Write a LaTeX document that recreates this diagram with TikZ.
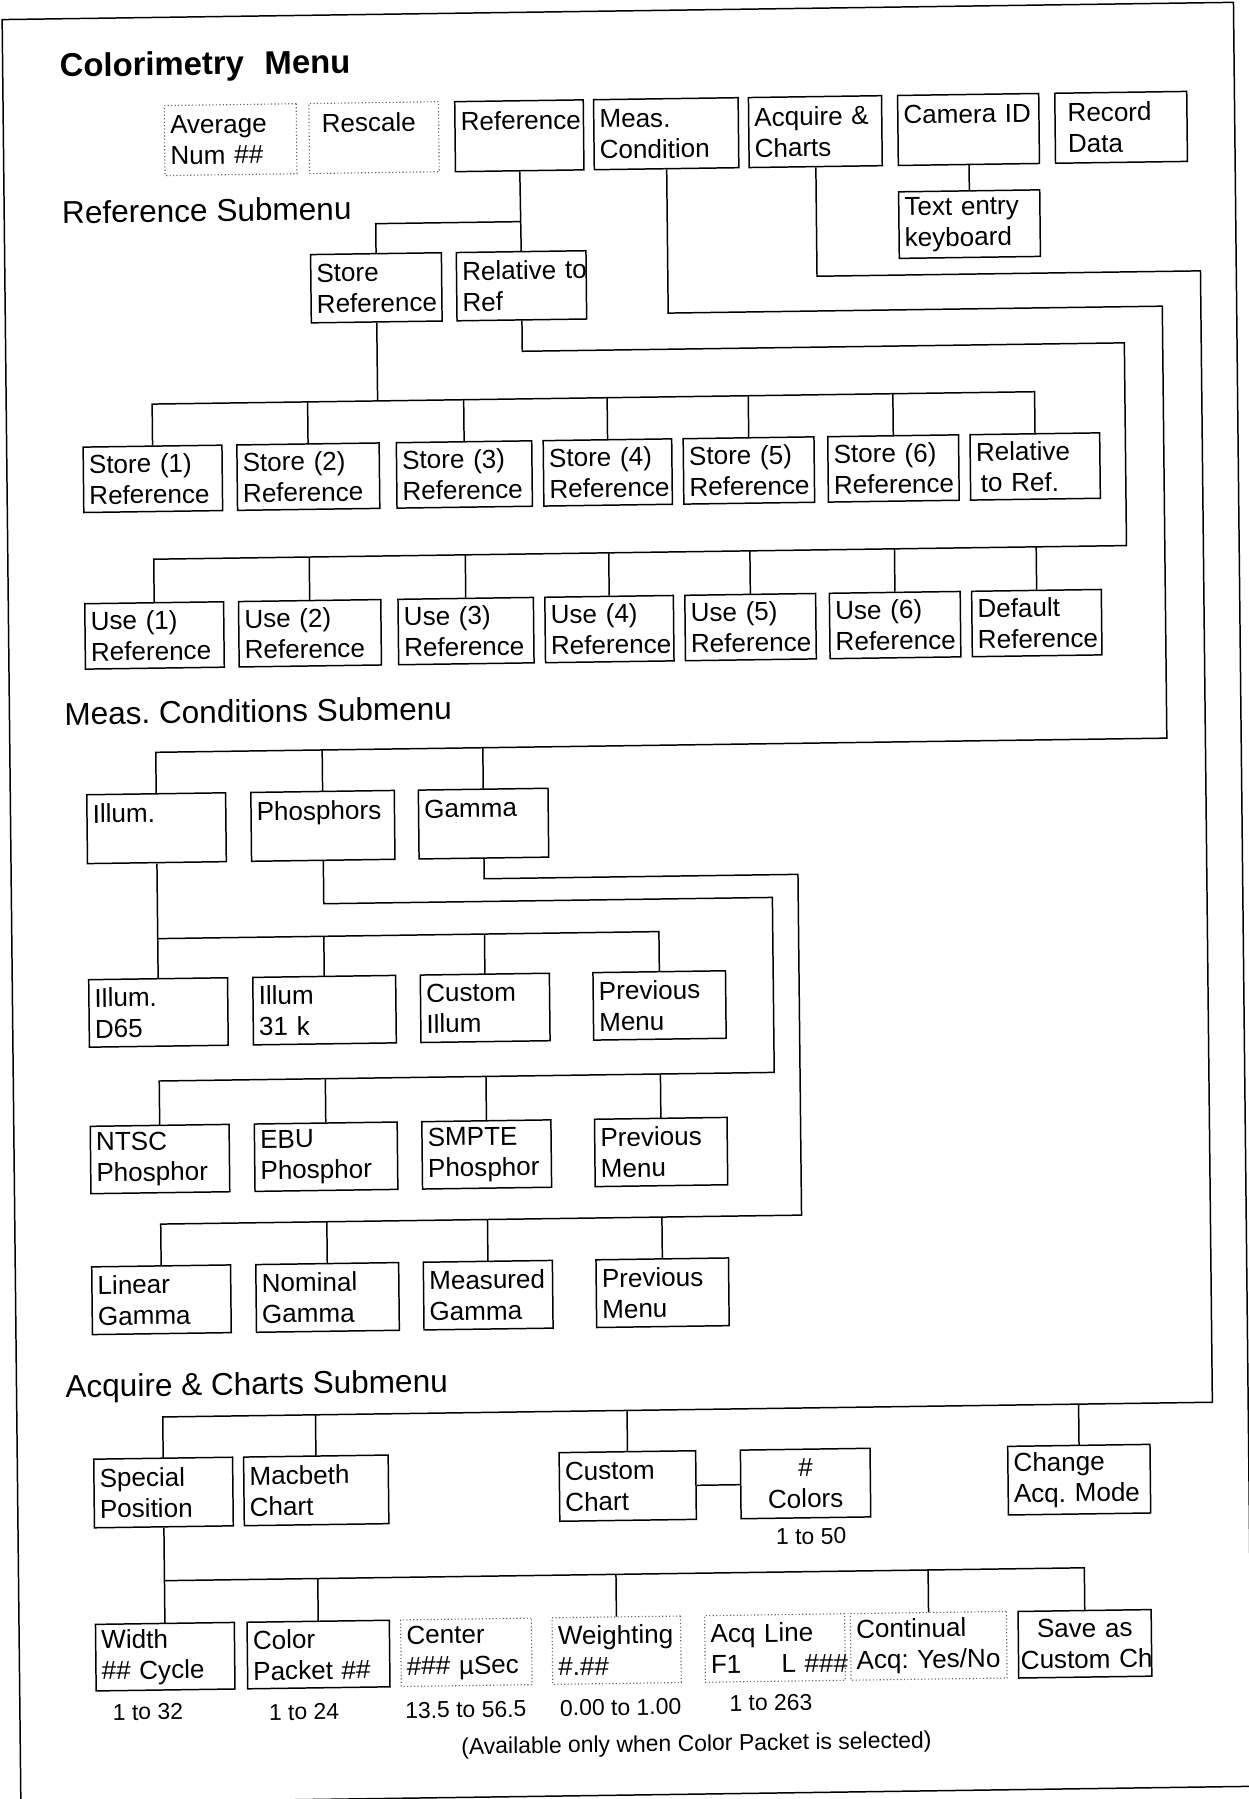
\documentclass[tikz,border=0pt]{standalone}
\usepackage{fontspec}
\setmainfont{Liberation Sans}
\hyphenpenalty=10000
\exhyphenpenalty=10000
\frenchspacing
\newcommand\bxf{\fontsize{22.7}{27}\selectfont}
\newcommand\ttlf{\bfseries\fontsize{28.6}{34}\selectfont}
\newcommand\mysubf{\fontsize{27.5}{33}\selectfont}
\newcommand\lblf{\fontsize{20}{24}\selectfont}
\tikzset{
  bx/.style 2 args={draw, line width=1.3pt, anchor=north west, align=left, font=\bxf,
    inner xsep=5pt, inner ysep=0pt, minimum width=#1pt, minimum height=#2pt,
    /utils/exec={\pgfmathsetlengthmacro\tw{#1pt-10pt}}, text width=\tw},
  dbx/.style 2 args={bx={#1}{#2}, draw=black!60, line width=1pt, dash pattern=on 1pt off 2pt},
  cbx/.style 2 args={bx={#1}{#2}, align=center, inner xsep=2pt,
    /utils/exec={\pgfmathsetlengthmacro\tw{#1pt-4pt}}},
  ttl/.style={anchor=base west, inner sep=0pt},
  lbl/.style={font=\lblf, inner sep=0pt},
  ln/.style={line width=1.3pt},
}
\begin{document}
\begin{tikzpicture}[x=1pt,y=-1pt]
\useasboundingbox (0,0) rectangle (1088,1568);
\begin{scope}[cm={1,0.014,-0.0105,1,(-8.23pt,-7.62pt)}, transform shape]
% frame
\draw[ln] (10,9.6) -- (1083.2,9.6) -- (1083.2,1564.5) -- (10,1564.5) -- cycle;

% titles
\node[ttl, font=\ttlf] (title) at (59.6,60.3) {Colorimetry\hspace{18pt}Menu};
\node[ttl, font=\mysubf] (refsub) at (60.3,188.1) {Reference Submenu};
\node[ttl, font=\mysubf] (meassub) at (57.7,625.1) {Meas. Conditions Submenu};
\node[ttl, font=\mysubf] (acqsub) at (52.5,1211.1) {Acquire \& Charts Submenu};

% main menu
\node[dbx={115}{61}] (avg) at (150,86) {Average\\Num~\#\#};
\node[dbx={113}{61}] (resc) at (276,86) {\hspace*{6pt}Rescale\\~};
\node[bx={112}{61}] (ref) at (403,86) {Reference\\~};
\node[bx={126}{61}] (meas) at (524,86) {Meas.\\Condition};
\node[bx={116}{61}] (acq) at (659,86) {Acquire~\&\\Charts};
\node[bx={123}{61}] (cam) at (789,86) {Camera~ID\\~};
\node[bx={115}{61}] (rec) at (926,86) {\hspace*{6pt}Record\\\hspace*{6pt}Data};
\node[bx={123}{58}] (kbd) at (789,170) {Text~entry\\keyboard};

% reference submenu
\node[bx={114}{59.5}] (sref) at (276,217.5) {Store\\Reference};
\node[bx={113}{59.5}] (rel) at (403,217.5) {Relative~to\\Ref};

\node[bx={121}{57}] (s1) at (76,382.5) {Store~(1)\\Reference};
\node[bx={124}{57}] (s2) at (210,382.5) {Store~(2)\\Reference};
\node[bx={118}{57}] (s3) at (349,382.5) {Store~(3)\\Reference};
\node[bx={112}{57}] (s4) at (477,382.5) {Store~(4)\\Reference};
\node[bx={114}{57}] (s5) at (599,382.5) {Store~(5)\\Reference};
\node[bx={114}{57}] (s6) at (725,382.5) {Store~(6)\\Reference};
\node[bx={113}{57}] (srel) at (849,382.5) {Relative\\\hspace*{4pt}to~Ref.};

\node[bx={121}{57}] (u1) at (76,519) {Use~(1)\\Reference};
\node[bx={124}{57}] (u2) at (210,519) {Use~(2)\\Reference};
\node[bx={118}{57}] (u3) at (349,519) {Use~(3)\\Reference};
\node[bx={112}{57}] (u4) at (477,519) {Use~(4)\\Reference};
\node[bx={114}{57}] (u5) at (599,519) {Use~(5)\\Reference};
\node[bx={114}{57}] (u6) at (725,519) {Use~(6)\\Reference};
\node[bx={113}{57}] (udef) at (849,519) {Default\\Reference};

% meas. conditions submenu
\node[bx={121}{60}] (ill) at (76,685.5) {Illum.\\~};
\node[bx={125}{60}, inner xsep=3pt] (pho) at (219,685.5) {Phosphors\\~};
\node[bx={113}{60}] (gam) at (365,685.5) {Gamma\\~};

\node[bx={121}{58.8}] (d65) at (76,846.7) {Illum.\\D65};
\node[bx={124.5}{58.8}] (i31) at (219,846.7) {Illum\\31~k};
\node[bx={112.5}{58.8}] (cil) at (365,846.7) {Custom\\Illum};
\node[bx={115.5}{58.8}] (pm1) at (515.5,846.7) {Previous\\Menu};

\node[bx={121}{58.7}] (ntsc) at (76,974.5) {NTSC\\Phosphor};
\node[bx={124.5}{58.7}] (ebu) at (219,974.5) {EBU\\Phosphor};
\node[bx={112.5}{58.7}] (smpte) at (365,974.5) {SMPTE\\Phosphor};
\node[bx={115.5}{58.7}] (pm2) at (515.5,974.5) {Previous\\Menu};

\node[bx={121}{59}] (lin) at (76,1097) {Linear\\Gamma};
\node[bx={124.5}{59}] (nom) at (219,1097) {Nominal\\Gamma};
\node[bx={112.5}{59}] (mga) at (365,1097) {Measured\\Gamma};
\node[bx={115.5}{59}] (pm3) at (515.5,1097) {Previous\\Menu};

% acquire & charts submenu
\node[bx={121}{59.8}] (spec) at (76,1264.6) {Special\\Position};
\node[bx={126}{59.8}] (mac) at (206.6,1264.6) {Macbeth\\Chart};
\node[bx={119}{59.8}] (cch) at (481.6,1264.6) {Custom\\Chart};
\node[cbx={113}{59.8}] (ncol) at (639.6,1264.6) {\#\\Colors};
\node[bx={124}{59.8}] (chg) at (872.6,1264.6) {Change\\Acq.~Mode};
\node[lbl] (r50) at (701.2,1341.3) {1 to 50};

\node[bx={121}{58}] (wid) at (76,1408.6) {Width\\\#\#~Cycle};
\node[bx={124}{58}] (cpk) at (208.1,1408.6) {Color\\Packet~\#\#};
\node[dbx={114}{58}] (cen) at (342.1,1408.6) {Center\\\#\#\#~µSec};
\node[dbx={112}{58}] (wgt) at (474.1,1408.6) {Weighting\\\#.\#\#};
\node[dbx={122}{58}] (acl) at (607.1,1408.6) {Acq~Line\\F1\hspace*{35pt}L~\#\#\#};
\node[dbx={136}{58}] (cont) at (734.1,1408.6) {Continual\\Acq:~Yes/No};
\node[cbx={116}{58}] (save) at (880.1,1408.6) {Save~as\\Custom~Ch};

\node[lbl] (r32) at (121.6,1486.2) {1 to 32};
\node[lbl] (r24) at (257.6,1488.1) {1 to 24};
\node[lbl] (rcen) at (398.6,1488.1) {13.5 to 56.5};
\node[lbl] (rwgt) at (533.6,1488) {0.00 to 1.00};
\node[lbl] (racl) at (664.6,1485.8) {1 to 263};
\node[lbl] (note) at (599.3,1521.9) {(Available only when Color Packet is selected)};

% connectors: main menu
\draw[ln] (cam.south) -- (kbd.north);
\draw[ln] (ref.south) -- (rel.north);
\draw[ln] (ref.south |- 0,192) -| (sref.north);

% store row
\draw[ln] (sref.south) -- (sref.south |- 0,346.5);
\draw[ln] (s1.north) -- (s1.north |- 0,346.5) -- (srel.north |- 0,346.5) -- (srel.north);
\foreach \n in {s2,s3,s4,s5,s6} \draw[ln] (\n.north) -- (\n.north |- 0,346.5);

% use row
\draw[ln] (rel.south) -- (rel.south |- 0,305) -- (985,305) -- (985,481.7)
  -- (u1.north |- 0,481.7) -- (u1.north);
\foreach \n in {u2,u3,u4,u5,u6,udef} \draw[ln] (\n.north) -- (\n.north |- 0,481.7);

% meas. condition
\draw[ln] (meas.south) -- (meas.south |- 0,273.5) -- (1018.4,273.5) -- (1018.4,650)
  -- (ill.north |- 0,650) -- (ill.north);
\foreach \n in {pho,gam} \draw[ln] (\n.north) -- (\n.north |- 0,650);

% illum
\draw[ln] (ill.south) -- (d65.north);
\draw[ln] (d65.north |- 0,812.4) -- (pm1.north |- 0,812.4) -- (pm1.north);
\foreach \n in {i31,cil} \draw[ln] (\n.north) -- (\n.north |- 0,812.4);

% phosphors
\draw[ln] (pho.south) -- (pho.south |- 0,784) -- (673.2,784) -- (673.2,936.5)
  -- (ntsc.north |- 0,936.5) -- (ntsc.north);
\foreach \n in {ebu,smpte,pm2} \draw[ln] (\n.north) -- (\n.north |- 0,936.5);

% gamma
\draw[ln] (gam.south) -- (gam.south |- 0,764.2) -- (695.7,764.2) -- (695.7,1061.2)
  -- (lin.north |- 0,1061.2) -- (lin.north);
\foreach \n in {nom,mga,pm3} \draw[ln] (\n.north) -- (\n.north |- 0,1061.2);

% acquire & charts
\draw[ln] (acq.south) -- (acq.south |- 0,243.2) -- (1052,243.2) -- (1052,1229.3)
  -- (spec.north |- 0,1229.3) -- (spec.north);
\foreach \n in {mac,cch,chg} \draw[ln] (\n.north) -- (\n.north |- 0,1229.3);
\draw[ln] (cch.east) -- (ncol.west);

% special position
\draw[ln] (spec.south) -- (wid.north);
\draw[ln] (wid.north |- 0,1372) -- (save.north |- 0,1372) -- (save.north);
\foreach \n in {cpk,wgt,cont} \draw[ln] (\n.north) -- (\n.north |- 0,1372);
\end{scope}
\end{tikzpicture}
\end{document}
